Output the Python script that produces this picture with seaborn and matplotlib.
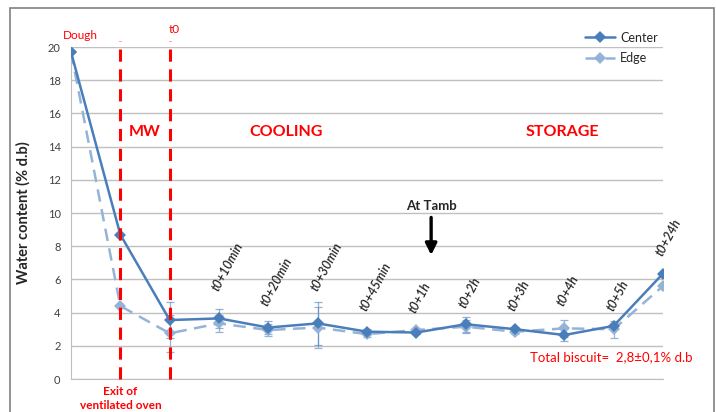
import matplotlib
matplotlib.use("Agg")
import matplotlib.pyplot as plt
import seaborn as sns
import pandas as pd
import numpy as np
from matplotlib.patches import Rectangle

sns.set_style("white")
plt.rcParams["font.family"] = ["Lato", "DejaVu Sans"]

# Sampling stages
stages = ["Dough", "Exit of ventilated oven", "t0", "t0+10min", "t0+20min",
          "t0+30min", "t0+45min", "t0+1h", "t0+2h", "t0+3h", "t0+4h",
          "t0+5h", "t0+24h"]
# Water content (% d.b)
center = [19.7, 8.7, 3.55, 3.65, 3.1, 3.35, 2.85, 2.8, 3.3, 3.0, 2.65, 3.2, 6.35]
edge = [19.7, 4.4, 2.75, 3.35, 2.95, 3.1, 2.7, 2.95, 3.15, 2.85, 3.05, 3.0, 5.6]
# Standard deviations
center_err = [0, 0, 1.1, 0.55, 0.4, 1.3, 0.15, 0.1, 0.45, 0.15, 0.35, 0.2, 0.1]
edge_err = [0, 0, 1.1, 0.5, 0.35, 1.25, 0.15, 0.15, 0.4, 0.15, 0.5, 0.5, 0.1]

# Label anchor heights above the storage/cooling points
label_y = [None, None, None, 5.2, 4.3, 5.2, 4.0, 3.85, 4.15, 4.0, 4.3, 4.0, 7.3]

pos = np.arange(len(stages))
df = pd.concat([
    pd.DataFrame({"pos": pos, "value": center, "Zone": "Center"}),
    pd.DataFrame({"pos": pos, "value": edge, "Zone": "Edge"}),
])

c_col = "#4a7ebb"
e_col = "#95b3d7"

fig = plt.figure(figsize=(7.16, 4.12), dpi=100)
ax = fig.add_axes([71 / 716, 1 - 379 / 412, (663 - 71) / 716, (379 - 47) / 412])

# Error bars
ax.errorbar(pos, edge, yerr=edge_err, fmt="none", ecolor=e_col, elinewidth=0.9,
            capsize=3, capthick=0.9, zorder=2)
ax.errorbar(pos, center, yerr=center_err, fmt="none", ecolor=c_col, elinewidth=0.9,
            capsize=3, capthick=0.9, zorder=2, alpha=0.6)

sns.lineplot(data=df[df.Zone == "Edge"], x="pos", y="value", ax=ax, color=e_col,
             linestyle=(0, (5, 3)), linewidth=1.8, marker="D", markersize=6,
             markeredgewidth=0, label="Edge", zorder=3)
sns.lineplot(data=df[df.Zone == "Center"], x="pos", y="value", ax=ax, color=c_col,
             linewidth=1.8, marker="D", markersize=6, markeredgewidth=0,
             label="Center", zorder=4)

ax.set_xlim(0, 12)
ax.set_ylim(0, 20)
ax.set_yticks(np.arange(0, 21, 2))
ax.set_yticks(np.arange(1, 20, 2), minor=True)
ax.set_xticks([])
ax.set_xlabel("")
ax.set_ylabel("Water content (% d.b)", fontsize=10.5, fontweight="bold", labelpad=12)
ax.tick_params(axis="y", which="major", labelsize=8, colors="#404040", length=4,
               direction="out", width=0.8, color="#bfbfbf")
ax.tick_params(axis="y", which="minor", length=3, direction="in", color="#bfbfbf")
ax.grid(axis="y", color="#c0c0c0", linewidth=1)
for s in ["top", "right"]:
    ax.spines[s].set_visible(False)
ax.spines["left"].set_color("#bfbfbf")
ax.spines["bottom"].set_color("#bfbfbf")
ax.set_axisbelow(True)

# Phase boundaries
for x in (1, 2):
    ax.plot([x, x], [0, 20.35], color="#ff0000", linestyle=(0, (4, 2.5)),
            linewidth=2.2, clip_on=False, zorder=5)

red = "#ff0000"
ax.text(0.2, 20.35, "Dough", color=red, fontsize=8.5, ha="center", va="bottom")
ax.text(2.1, 20.75, "t0", color=red, fontsize=8.5, ha="center", va="bottom")
ax.text(1.5, 14.85, "MW", color=red, fontsize=11.5, fontweight="bold",
        ha="center", va="center")
ax.text(4.35, 14.85, "COOLING", color=red, fontsize=11.5, fontweight="bold",
        ha="center", va="center")
ax.text(9.95, 14.85, "STORAGE", color=red, fontsize=11.5, fontweight="bold",
        ha="center", va="center")
ax.text(1.0, -0.45, "Exit of\nventilated oven", color=red, fontsize=8.5,
        fontweight="bold", ha="center", va="top", linespacing=1.25,
        clip_on=False)
ax.text(9.3, 1.3, "Total biscuit=  2,8\u00b10,1% d.b", color=red, fontsize=9.5,
        ha="left", va="center", clip_on=False)

# Ambient temperature marker
ax.text(7.3, 10.05, "At Tamb", fontsize=9.5, fontweight="bold", ha="center",
        va="bottom")
ax.annotate("", xy=(7.3, 7.3), xytext=(7.3, 9.9),
            arrowprops=dict(arrowstyle="-|>", color="black", lw=2.4,
                            mutation_scale=17))

# Time labels
for p, lab, ly in zip(pos, stages, label_y):
    if ly is None:
        continue
    ax.text(p + 0.03, ly, lab, rotation=62, rotation_mode="anchor",
            ha="left", va="bottom", fontsize=9, fontstyle="italic",
            fontweight="semibold")

handles, labels = ax.get_legend_handles_labels()
order = [labels.index("Center"), labels.index("Edge")]
ax.legend([handles[i] for i in order], [labels[i] for i in order],
          loc="upper right", bbox_to_anchor=(1.01, 1.08), frameon=False,
          fontsize=9, handlelength=2.4, labelspacing=0.7, handletextpad=0.4)

# Outer frame
fig.patches.append(Rectangle((10 / 716, -0.05), 704 / 716, 1 - 8 / 412 + 0.05,
                             transform=fig.transFigure, fill=False,
                             edgecolor="#808080", linewidth=1.2))

fig.savefig("out.png", dpi=100)
